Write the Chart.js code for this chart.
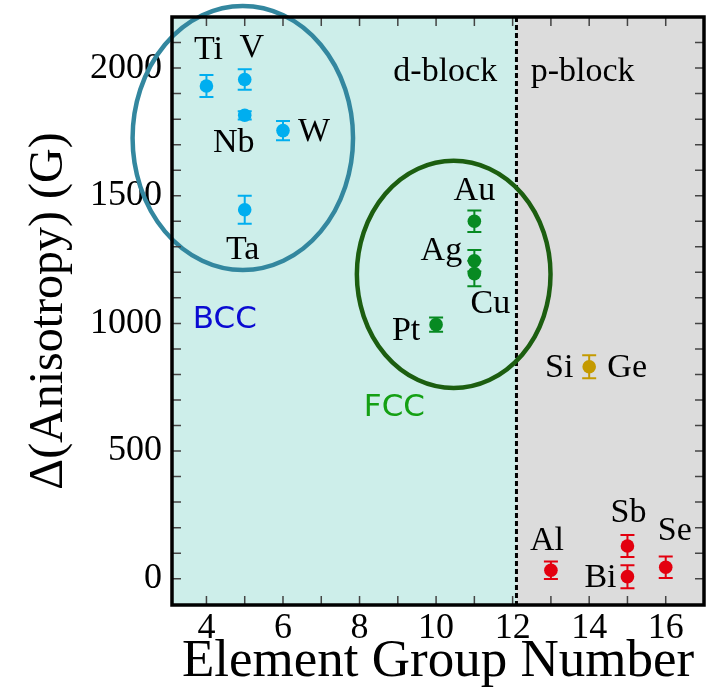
<!DOCTYPE html>
<html>
<head>
<meta charset="utf-8">
<script src="https://cdn.jsdelivr.net/npm/chart.js@4/dist/chart.umd.min.js"></script>
<style>
  html, body { margin: 0; padding: 0; background: #ffffff; }
  #wrap { width: 716px; height: 698px; }
</style>
</head>
<body>
<div id="wrap"><canvas id="chart" width="716" height="698"></canvas></div>
<script>
// ---- data ----
const xTickLabels = [4, 6, 8, 10, 12, 14, 16];
const yTickLabels = [0, 500, 1000, 1500, 2000];

// BCC transition metals
const bccNames = ['Ti', 'V', 'Nb', 'W', 'Ta'];
const bccGroup = [4, 5, 5, 6, 5];
const bccAniso = [1930, 1955, 1815, 1755, 1445];
const bccErr   = [43, 40, 16, 38, 55];

// FCC transition metals
const fccNames = ['Au', 'Ag', 'Cu', 'Pt'];
const fccGroup = [11, 11, 11, 10];
const fccAniso = [1400, 1245, 1195, 995];
const fccErr   = [42, 42, 50, 28];

// group-14 semiconductors
const semiNames = ['Si', 'Ge'];
const semiGroup = [14];
const semiAniso = [830];
const semiErr   = [45];

// other p-block elements
const pNames = ['Al', 'Sb', 'Bi', 'Se'];
const pGroup = [13, 15, 15, 16];
const pAniso = [33, 128, 8, 45];
const pErr   = [34, 43, 45, 42];

// d-block / p-block boundary on the group axis
const blockSplit = 12.1;

// ---- styling ----
const SERIF = '"Liberation Serif", "Times New Roman", serif';
const SANS = '"DejaVu Sans", Verdana, sans-serif';
const COL = {
  bcc: '#00aeef', fcc: '#078a22', semi: '#c49a00', p: '#e3000f',
  dBg: '#cdeeea', pBg: '#dcdcdc',
  bccRing: '#33879f', fccRing: '#1c5e10',
  bccText: '#0a0ad2', fccText: '#14a014'
};

// label offsets (px) from each marker centre
const labelOffsets = {
  Ti: [2, -36], V: [7, -31], Nb: [-11, 28], W: [31, 1], Ta: [-2, 40],
  Au: [0, -30], Ag: [-33, -10], Cu: [16, 30], Pt: [-30, 6],
  Si: [-30, 1], Ge: [38, 1],
  Al: [-4, -29], Sb: [1, -33], Bi: [-27, 1], Se: [9, -36]
};

function toPoints(xs, ys) { return xs.map((x, i) => ({ x: x, y: ys[i] })); }

const datasets = [
  { label: 'BCC', data: toPoints(bccGroup, bccAniso), errors: bccErr, names: bccNames, backgroundColor: COL.bcc },
  { label: 'FCC', data: toPoints(fccGroup, fccAniso), errors: fccErr, names: fccNames, backgroundColor: COL.fcc },
  { label: 'Si/Ge', data: toPoints(semiGroup, semiAniso), errors: semiErr, names: [null], backgroundColor: COL.semi },
  { label: 'p-block', data: toPoints(pGroup, pAniso), errors: pErr, names: pNames, backgroundColor: COL.p }
].map(d => Object.assign(d, { pointRadius: 6.8, pointHoverRadius: 6.8, borderWidth: 0, pointBorderWidth: 0 }));

const panelPlugin = {
  id: 'panel',
  beforeDraw(chart) {
    const { ctx, chartArea: a, scales: { x } } = chart;
    const xs = x.getPixelForValue(blockSplit);
    ctx.save();
    ctx.fillStyle = COL.dBg;
    ctx.fillRect(a.left, a.top, xs - a.left, a.bottom - a.top);
    ctx.fillStyle = COL.pBg;
    ctx.fillRect(xs, a.top, a.right - xs, a.bottom - a.top);
    ctx.setLineDash([5, 3]);
    ctx.lineWidth = 3;
    ctx.strokeStyle = '#000';
    ctx.beginPath();
    ctx.moveTo(xs, a.top);
    ctx.lineTo(xs, a.bottom);
    ctx.stroke();
    ctx.restore();
  },
  beforeDatasetsDraw(chart) {
    const { ctx, scales: { x, y } } = chart;
    ctx.save();
    ctx.lineWidth = 2;
    chart.data.datasets.forEach(ds => {
      ctx.strokeStyle = ds.backgroundColor;
      ds.data.forEach((p, i) => {
        const px = x.getPixelForValue(p.x);
        const top = y.getPixelForValue(p.y + ds.errors[i]);
        const bot = y.getPixelForValue(p.y - ds.errors[i]);
        const cap = 7;
        ctx.beginPath();
        ctx.moveTo(px, top); ctx.lineTo(px, bot);
        ctx.moveTo(px - cap, top); ctx.lineTo(px + cap, top);
        ctx.moveTo(px - cap, bot); ctx.lineTo(px + cap, bot);
        ctx.stroke();
      });
    });
    ctx.restore();
  },
  afterDatasetsDraw(chart) {
    const { ctx, chartArea: a, scales: { x, y } } = chart;
    ctx.save();

    // group outlines
    const ring = (cx, cy, rx, ry, color) => {
      const px = x.getPixelForValue(cx), py = y.getPixelForValue(cy);
      const rpx = x.getPixelForValue(cx + rx) - px;
      const rpy = py - y.getPixelForValue(cy + ry);
      ctx.beginPath();
      ctx.ellipse(px, py, rpx, rpy, 0, 0, Math.PI * 2);
      ctx.lineWidth = 4.5;
      ctx.strokeStyle = color;
      ctx.stroke();
    };
    ring(4.95, 1726, 2.88, 517, COL.bccRing);
    ring(10.46, 1192, 2.53, 445, COL.fccRing);

    // element labels
    ctx.fillStyle = '#000';
    ctx.font = '34px ' + SERIF;
    ctx.textAlign = 'center';
    ctx.textBaseline = 'middle';
    chart.data.datasets.forEach(ds => {
      ds.data.forEach((p, i) => {
        const px = x.getPixelForValue(p.x), py = y.getPixelForValue(p.y);
        const names = ds.names[i] ? [ds.names[i]] : semiNames;
        names.forEach(n => {
          const o = labelOffsets[n];
          ctx.fillText(n, px + o[0], py + o[1]);
        });
      });
    });

    // region captions
    ctx.fillText('d-block', x.getPixelForValue(10.24), y.getPixelForValue(1984));
    ctx.fillText('p-block', x.getPixelForValue(13.83), y.getPixelForValue(1984));
    ctx.font = '31px ' + SANS;
    ctx.fillStyle = COL.bccText;
    ctx.fillText('BCC', x.getPixelForValue(4.48), y.getPixelForValue(1014));
    ctx.fillStyle = COL.fccText;
    ctx.fillText('FCC', x.getPixelForValue(8.91), y.getPixelForValue(669));

    // inward tick marks on all four sides
    ctx.strokeStyle = '#444';
    ctx.lineWidth = 1.5;
    const tl = 9;
    ctx.beginPath();
    for (let v = 4; v <= 16; v++) {
      const px = x.getPixelForValue(v);
      ctx.moveTo(px, a.bottom); ctx.lineTo(px, a.bottom - tl);
      ctx.moveTo(px, a.top); ctx.lineTo(px, a.top + tl);
    }
    for (let v = 0; v <= 2100; v += 100) {
      const py = y.getPixelForValue(v);
      ctx.moveTo(a.left, py); ctx.lineTo(a.left + tl, py);
      ctx.moveTo(a.right, py); ctx.lineTo(a.right - tl, py);
    }
    ctx.stroke();

    // frame
    ctx.strokeStyle = '#000';
    ctx.lineWidth = 3.5;
    ctx.strokeRect(a.left, a.top, a.right - a.left, a.bottom - a.top);
    ctx.restore();
  }
};

new Chart(document.getElementById('chart'), {
  type: 'scatter',
  data: { datasets: datasets },
  options: {
    responsive: false,
    animation: false,
    events: [],
    layout: { padding: { top: 17, right: 12, left: 0, bottom: 0 } },
    plugins: { legend: { display: false }, tooltip: { enabled: false } },
    scales: {
      x: {
        type: 'linear',
        min: 3.1, max: 17,
        grid: { display: false, drawTicks: false },
        border: { display: false },
        afterBuildTicks: s => { s.ticks = xTickLabels.map(v => ({ value: v })); },
        afterFit: s => { s.height = 93; s.paddingLeft = 0; s.paddingRight = 0; },
        ticks: { color: '#000', font: { family: SERIF, size: 36 }, padding: 2, maxRotation: 0,
                 callback: v => String(v) },
        title: {
          display: true, text: 'Element Group Number', color: '#000',
          font: { family: SERIF, size: 53 }, padding: { top: 0, bottom: 4 }
        }
      },
      y: {
        type: 'linear',
        min: -103, max: 2200,
        grid: { display: false, drawTicks: false },
        border: { display: false },
        afterBuildTicks: s => { s.ticks = yTickLabels.map(v => ({ value: v })); },
        afterFit: s => { s.width = 172; s.paddingTop = 0; s.paddingBottom = 0; },
        ticks: { color: '#000', font: { family: SERIF, size: 36 }, padding: 10,
                 callback: v => String(v) },
        title: {
          display: true, text: 'Δ(Anisotropy) (G)', color: '#000',
          font: { family: SERIF, size: 48 }, padding: { top: 21, bottom: 0 }
        }
      }
    }
  },
  plugins: [panelPlugin]
});
</script>
</body>
</html>
